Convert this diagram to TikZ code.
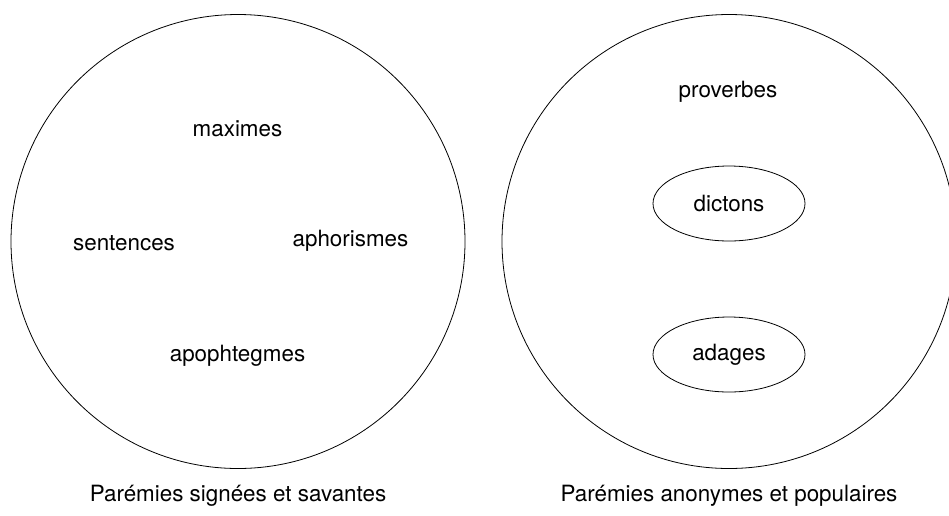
\documentclass[tikz,border=0pt]{standalone}
\usepackage{fontspec}
\setmainfont{TeX Gyre Heros}
\usetikzlibrary{shapes.geometric}
\begin{document}
\begin{tikzpicture}[x=1pt,y=-1pt,
  every node/.style={font=\fontsize{22.4}{26}\selectfont, inner sep=0pt},
  bigset/.style={draw, line width=0.8pt, circle, minimum size=454pt},
  subset/.style={draw, line width=0.8pt, ellipse, minimum width=152pt, minimum height=75pt},
  word/.style={anchor=base}]
\useasboundingbox (0,0) rectangle (949,515);
\node[bigset] (left) at (238,241.5) {};
\node[bigset] (right) at (729,241.5) {};
\node[word] (maximes) at (237.5,136) {maximes};
\node[word] (sentences) at (124,250) {sentences};
\node[word] (aphorismes) at (350.5,246.8) {aphorismes};
\node[word] (apophtegmes) at (237.5,361.7) {apophtegmes};
\node[word] (proverbes) at (728,97.3) {proverbes};
\node[subset] (dictons) at (729,203.5) {dictons};
\node[subset] (adages) at (729,354.5) {adages};
\node[word] (lefttitle) at (238,501.7) {Parémies signées et savantes};
\node[word] (righttitle) at (729,501.7) {Parémies anonymes et populaires};
\end{tikzpicture}
\end{document}
